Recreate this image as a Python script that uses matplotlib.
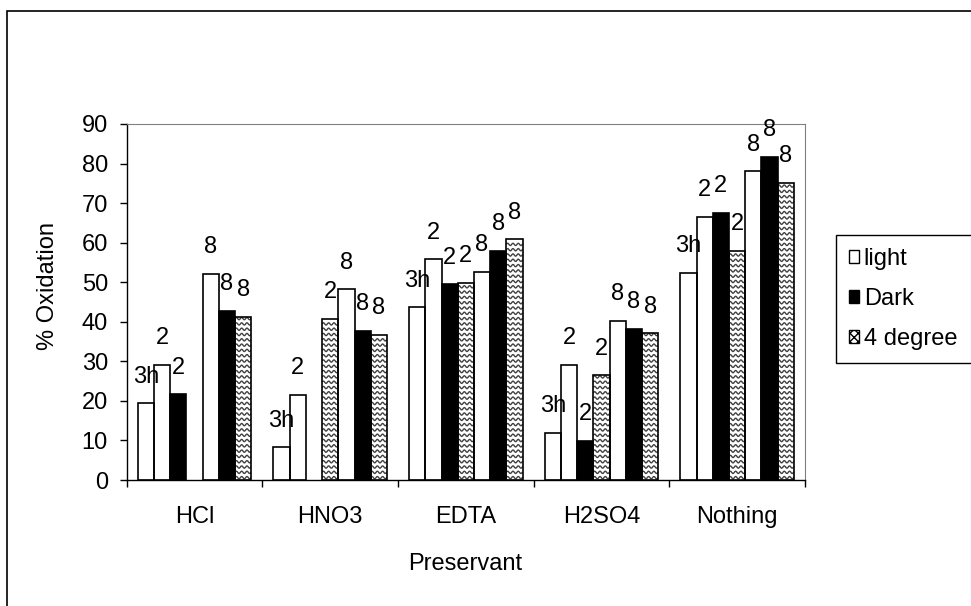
import matplotlib.pyplot as plt
import numpy as np
from matplotlib.patches import Rectangle, Patch
from matplotlib.collections import LineCollection

plt.rcParams['font.family'] = ['Liberation Sans', 'DejaVu Sans']

preservants = ['HCl', 'HNO3', 'EDTA', 'H2SO4', 'Nothing']

# % oxidation, one list per storage condition / time
light_3h = [19.4, 8.3, 43.7, 12.0, 52.4]
light_24h = [29.1, 21.5, 55.8, 29.1, 66.6]
dark_24h = [21.7, np.nan, 49.5, 9.9, 67.6]
cold_24h = [np.nan, 40.7, 49.9, 26.5, 57.9]
light_48h = [52.2, 48.2, 52.7, 40.3, 78.1]
dark_48h = [42.8, 37.7, 58.0, 38.2, 81.7]
cold_48h = [41.3, 36.7, 60.9, 37.1, 75.2]

series = [
    (light_3h, 'light', '3h'),
    (light_24h, 'light', '2'),
    (dark_24h, 'dark', '2'),
    (cold_24h, 'cold', '2'),
    (light_48h, 'light', '8'),
    (dark_48h, 'dark', '8'),
    (cold_48h, 'cold', '8'),
]

FS = 17


def waves(ax, bar):
    # wavy grey fill for the "4 degree" bars
    x0, w, h = bar.get_x(), bar.get_width(), bar.get_height()
    xs = np.linspace(x0, x0 + w, 80)
    segs = []
    for y in np.arange(0.6, h, 1.34):
        ys = y + 0.28 * np.sin(2 * np.pi * (xs - x0) / 0.039)
        segs.append(np.column_stack([xs, ys]))
    lc = LineCollection(segs, colors='#404040', linewidths=1.0, zorder=2.5)
    ax.add_collection(lc)
    lc.set_clip_path(bar)


fig = plt.figure(figsize=(9.71, 6.06), dpi=100)
ax = fig.add_axes([0.1305, 0.2079, 0.6985, 0.5875])

x = np.arange(len(preservants))
w = 0.1195

for i, (vals, kind, lab) in enumerate(series):
    v = np.array(vals, dtype=float)
    ok = ~np.isnan(v)
    pos = (x + (i - 3) * w)[ok]
    face = 'black' if kind == 'dark' else 'white'
    bars = ax.bar(pos, v[ok], w, color=face, edgecolor='none', zorder=2)
    if kind == 'cold':
        for b in bars:
            waves(ax, b)
    ax.bar(pos, v[ok], w, fill=False, edgecolor='black', linewidth=1.2, zorder=3)
    for b in bars:
        ax.annotate(lab, (b.get_x() + b.get_width() / 2, b.get_height()),
                    xytext=(0, 14.8), textcoords='offset points',
                    ha='center', va='baseline', fontsize=FS,
                    annotation_clip=False)

ax.set_xlim(-0.5, 4.5)
ax.set_ylim(0, 90)
ax.set_yticks(np.arange(0, 91, 10))
ax.set_xticks(np.arange(-0.5, 4.6, 1))
ax.set_xticklabels([])
ax.set_xticks(x, minor=True)
ax.set_xticklabels(preservants, minor=True)
ax.tick_params(axis='x', which='major', length=5, width=1, direction='out')
ax.tick_params(axis='x', which='minor', length=0, pad=19, labelsize=FS)
ax.tick_params(axis='y', length=5, width=1, direction='out', pad=8.5, labelsize=FS)

for s in ['top', 'right']:
    ax.spines[s].set_color('#808080')
for s in ['left', 'bottom']:
    ax.spines[s].set_color('black')
    ax.spines[s].set_linewidth(1)

fig.text(48.5 / 971, 1 - 286 / 606, '% Oxidation', rotation=90,
         ha='center', va='center', fontsize=FS)
fig.text(465 / 971, 1 - 564 / 606, 'Preservant', ha='center', va='center', fontsize=FS)

handles = [
    Patch(facecolor='white', edgecolor='black'),
    Patch(facecolor='black', edgecolor='black'),
    Patch(facecolor='white', edgecolor='black', hatch='xxxx'),
]
# legend box runs past the right edge of the figure
leg = fig.legend(handles, ['light', 'Dark', '4 degree'], loc='upper left',
                 bbox_to_anchor=(836 / 971, 1 - 241 / 606, 150 / 971, 0.01),
                 mode='expand', borderaxespad=0,
                 fontsize=FS, frameon=True, fancybox=False, framealpha=1,
                 edgecolor='black', handlelength=0.42, handleheight=0.42,
                 handletextpad=0.2, labelspacing=0.76, borderpad=0.55)
leg.get_frame().set_linewidth(1)

# chart area border
fig.add_artist(Rectangle((6.5 / 971, -0.2), 1.5, 1 - 11 / 606 + 0.2,
                         transform=fig.transFigure, fill=False,
                         edgecolor='black', linewidth=1.2))

fig.savefig('out.png', dpi=100)
